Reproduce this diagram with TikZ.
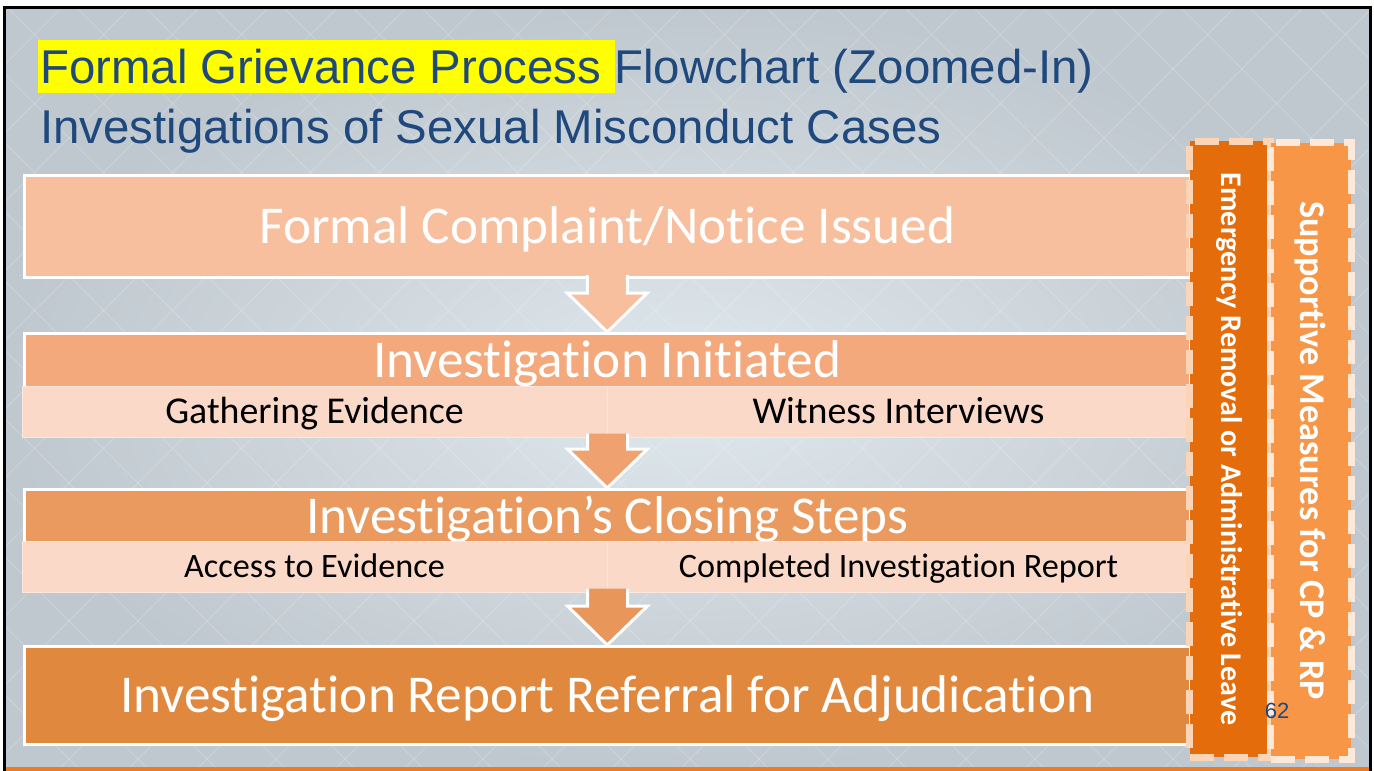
\documentclass[tikz,border=0pt]{standalone}
\usepackage{fontspec}
\setmainfont{Carlito}[Ligatures={NoCommon}]
\newfontfamily\arialf{Liberation Sans}
\usetikzlibrary{calc}
\definecolor{titleblue}{HTML}{1F497D}
\definecolor{bgin}{HTML}{DFE8ED}
\definecolor{bgout}{HTML}{C0C8CF}
\definecolor{cA}{HTML}{F8BF9F}
\definecolor{cB}{HTML}{F3A97B}
\definecolor{cBa}{HTML}{EFA170}
\definecolor{cC}{HTML}{EB9A5F}
\definecolor{cCa}{HTML}{E9965B}
\definecolor{cD}{HTML}{E0883E}
\definecolor{subfill}{HTML}{FBD9C9}
\definecolor{subedge}{HTML}{FDE6DC}
\definecolor{emfill}{HTML}{E46C0A}
\definecolor{emedge}{HTML}{FBD5B5}
\definecolor{supfill}{HTML}{F79646}
\definecolor{supedge}{HTML}{FDE9D9}
\definecolor{barorange}{HTML}{EE7A22}
\definecolor{hilite}{HTML}{FFFF00}
\tikzset{
 hdr/.style={rectangle, draw=white, line width=3pt, inner sep=0pt, text=white,
   font=\fontsize{53.2}{60}\selectfont, text height=34pt, text depth=0pt},
 cell/.style={rectangle, fill=subfill, draw=subedge, line width=1pt, inner sep=0pt, text=black,
   text depth=0pt},
 cellA/.style={cell, font=\fontsize{37.9}{44}\selectfont, text height=24pt},
 cellB/.style={cell, font=\fontsize{34.2}{40}\selectfont, text height=22pt},
 blockarrow/.style={draw=white, line width=3pt, line join=miter},
 sidebox/.style={rectangle, line width=7pt, dash pattern=on 24pt off 10pt, inner sep=0pt},
 sidetext/.style={text=white, rotate=-90, inner sep=0pt},
 titletext/.style={text=titleblue, font=\arialf\fontsize{47.4}{56}\selectfont, inner sep=0pt, anchor=base west},
 lattice/.style={draw=white, opacity=0.2, line width=1pt},
}
\newcommand\blockarr[3]{%
 \draw[blockarrow, fill=#3] let \p1=(#1), \p2=(#2) in
   (\x1-20pt,\y1+4pt) -- (\x1-20pt,\y2+39pt) -- (\x1-40pt,\y2+39pt) -- (\x2,\y2)
   -- (\x1+40pt,\y2+39pt) -- (\x1+20pt,\y2+39pt) -- (\x1+20pt,\y1+4pt);}
\begin{document}
\begin{tikzpicture}[x=1pt,y=-1pt]
\useasboundingbox (0,0) rectangle (1374,771);
\fill[white] (0,0) rectangle (1374,771);
% slide background
\shade[inner color=bgin, outer color=bgout] (5,8) rectangle (1371,771);
\begin{scope}
 \clip (5,8) rectangle (1371,767);
 \foreach \k in {0,...,31} \draw[lattice] (\k*69,0) -- ++(-771,771);
 \foreach \k in {-11,...,20} \draw[lattice] (\k*69,0) -- ++(771,771);
\end{scope}
\draw[black, line width=3pt] (4.5,771) -- (4.5,7.5) -- (1370.5,7.5) -- (1370.5,771);
\fill[barorange] (6,767) rectangle (1369,771);
% title
\fill[hilite] (38,40) rectangle (615,93);
\node[titletext] (t1) at (40,83) {Formal Grievance Process Flowchart (Zoomed-In)};
\node[titletext] (t2) at (40,143.5) {Investigations of Sexual Misconduct Cases};
% boxes
\node[hdr, fill=cA, minimum width=1165.5pt, minimum height=102pt] (b1) at (607.25,226.5) {Formal Complaint/Notice Issued};
\node[hdr, fill=cB, minimum width=1165.5pt, minimum height=54pt] (h2) at (607.25,360.5) {Investigation Initiated};
\node[cellA, minimum width=585pt, minimum height=51pt] (g2) at (314.5,411.5) {Gathering Evidence};
\node[cellA, minimum width=583pt, minimum height=51pt] (w2) at (898.5,411.5) {Witness Interviews};
\node[hdr, fill=cC, minimum width=1165.5pt, minimum height=53pt] (h3) at (607.25,516) {Investigation’s Closing Steps};
\node[cellB, minimum width=585pt, minimum height=51pt] (g3) at (314.5,566.5) {Access to Evidence};
\node[cellB, minimum width=583pt, minimum height=51pt] (w3) at (898.5,566.5) {Completed Investigation Report};
\node[hdr, fill=cD, minimum width=1165.5pt, minimum height=98pt] (b4) at (607.25,695.5) {Investigation Report Referral for Adjudication};
% arrows
\blockarr{b1.south}{h2.north}{cA}
\blockarr{g2.south east}{h3.north}{cBa}
\blockarr{g3.south east}{b4.north}{cCa}
% side boxes
\node[sidebox, fill=emfill, draw=emedge, minimum width=80.5pt, minimum height=616pt] (em) at (1229.75,449) {};
\node[sidebox, fill=supfill, draw=supedge, minimum width=80.5pt, minimum height=616.5pt] (sp) at (1310.75,450.75) {};
\node[sidetext, font=\bfseries\fontsize{30}{34}\selectfont] (emt) at (em.center) {Emergency Removal or Administrative Leave};
\node[sidetext, font=\bfseries\fontsize{36.2}{40}\selectfont] (spt) at (sp.center) {Supportive Measures for CP \& RP};
\node[font=\arialf\fontsize{22}{26}\selectfont, text=titleblue, inner sep=0pt] (pg) at (1277,711) {62};
\end{tikzpicture}
\end{document}
